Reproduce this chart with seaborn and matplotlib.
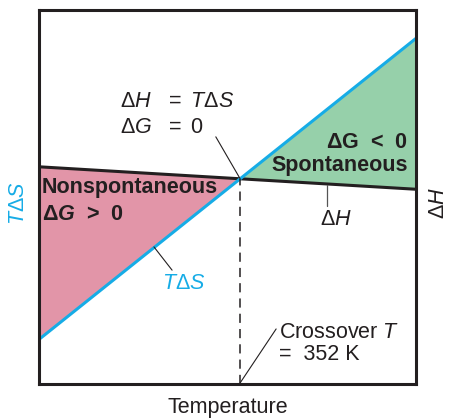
import numpy as np
import seaborn as sns
import matplotlib.pyplot as plt

# values (arbitrary units, axes run 0..1)
temperature = [0.0, 1.0]
t_delta_s = [0.119, 0.923]
delta_h = [0.580, 0.520]
crossover_label = "352 K"

sns.set_style("white")
plt.rcParams['font.family'] = ['Liberation Sans', 'DejaVu Sans']
plt.rcParams['mathtext.fontset'] = 'custom'
plt.rcParams['mathtext.rm'] = 'Liberation Sans'
plt.rcParams['mathtext.it'] = 'Liberation Sans:italic'
plt.rcParams['mathtext.bf'] = 'Liberation Sans:bold'
plt.rcParams['mathtext.bfit'] = 'Liberation Sans:italic:bold'

INK = '#231F20'
BLUE = '#16ACE6'
PINK = '#E295A8'
GREEN = '#96D0AA'
FS = 15.5

# crossover where the two lines meet
slope_ts = t_delta_s[1] - t_delta_s[0]
slope_h = delta_h[1] - delta_h[0]
xc = (delta_h[0] - t_delta_s[0]) / (slope_ts - slope_h)
yc = t_delta_s[0] + slope_ts * xc

xs = np.array([temperature[0], xc, temperature[1]])
ts = np.interp(xs, temperature, t_delta_s)
hs = np.interp(xs, temperature, delta_h)

fig = plt.figure(figsize=(4.49, 4.19), dpi=100)
ax = fig.add_axes([39 / 449, 1 - 384 / 419, 377 / 449, 374.5 / 419])

ax.fill_between(xs, ts, hs, where=hs >= ts, color=PINK, lw=0, interpolate=True)
ax.fill_between(xs, ts, hs, where=ts >= hs, color=GREEN, lw=0, interpolate=True)
sns.lineplot(x=temperature, y=delta_h, ax=ax, color=INK, lw=2.2)
sns.lineplot(x=temperature, y=t_delta_s, ax=ax, color=BLUE, lw=2.2)
ax.plot([xc, xc], [0, yc], color=INK, lw=1.1, ls=(0, (6, 4)))

ax.set_xlim(0, 1)
ax.set_ylim(0, 1)
ax.set_xticks([])
ax.set_yticks([])
for s in ax.spines.values():
    s.set_linewidth(2.2)
    s.set_color(INK)
    s.set_visible(True)

# annotations
ax.text(0.215, 0.740, r'$\Delta H$', fontsize=FS, color=INK)
ax.text(0.334, 0.740, r'$=\ T\Delta S$', fontsize=FS, color=INK)
ax.text(0.215, 0.669, r'$\Delta G$', fontsize=FS, color=INK)
ax.text(0.334, 0.669, r'$=\ 0$', fontsize=FS, color=INK)
ax.plot([0.469, xc], [0.660, yc], color=INK, lw=0.8)

ax.text(0.979, 0.629, r'$\mathbf{\Delta G}$  <  0', fontsize=FS, color=INK,
        fontweight='bold', ha='right')
ax.text(0.979, 0.570, 'Spontaneous', fontsize=FS, color=INK,
        fontweight='bold', ha='right')

ax.text(0.007, 0.511, 'Nonspontaneous', fontsize=FS, color=INK, fontweight='bold')
ax.text(0.007, 0.438, r'$\mathbf{\Delta}\mathbfit{G}$  >  0', fontsize=FS, color=INK,
        fontweight='bold')

ax.text(0.745, 0.425, r'$\Delta H$', fontsize=FS, color=INK)
ax.plot([0.764, 0.764], [0.531, 0.475], color='#555555', lw=0.9)

ax.text(0.325, 0.253, r'$T\Delta S$', fontsize=FS, color=BLUE)
ax.plot([0.305, 0.353], [0.366, 0.304], color=INK, lw=0.8)

ax.text(0.637, 0.122, r'Crossover $T$', fontsize=FS, color=INK)
ax.text(0.637, 0.064, '=  ' + crossover_label, fontsize=FS, color=INK)
ax.plot([0.629, xc], [0.147, 0.003], color=INK, lw=0.8)

# axis labels
fig.text(18 / 449, 1 - 203 / 419, r'$T\Delta S$', fontsize=FS, color=BLUE,
         rotation=90, ha='center', va='center')
fig.text(439 / 449, 1 - 203 / 419, r'$\Delta H$', fontsize=FS, color=INK,
         rotation=90, ha='center', va='center')
fig.text(228 / 449, 1 - 397 / 419, 'Temperature', fontsize=FS, color=INK,
         ha='center', va='top')

fig.savefig('out.png', dpi=100)
